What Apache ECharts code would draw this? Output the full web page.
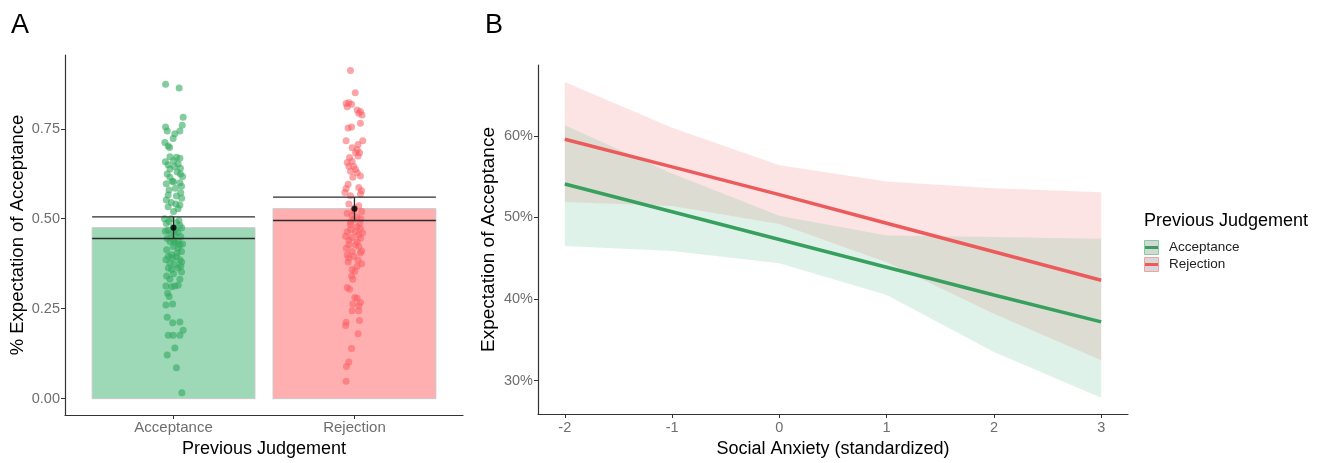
<!DOCTYPE html>
<html><head><meta charset="utf-8">
<script src="https://cdn.jsdelivr.net/npm/echarts@6/dist/echarts.min.js"></script>
<style>html,body{margin:0;padding:0;background:#fff}#c{width:1320px;height:463px}</style>
</head><body><div id="c"></div>
<script>
// ---------- Panel A data ----------
const categories = ['Acceptance', 'Rejection'];
const barMeans = [0.475, 0.528];
const ciLower = [0.445, 0.495];
const ciUpper = [0.505, 0.560];
const yTicksA = [0, 0.25, 0.5, 0.75];

const accValues = [0.874,0.863,0.782,0.760,0.755,0.744,0.744,0.736,0.723,0.712,0.702,0.698,
0.672,0.671,0.668,0.661,0.650,0.652,0.640,0.638,0.624,0.624,0.615,0.617,0.604,
0.597,0.603,0.600,0.590,0.580,0.566,0.563,0.552,0.545,0.541,0.538,0.528,
0.500,0.500,0.487,0.489,0.482,0.477,0.468,0.462,0.455,
0.437,0.434,0.437,0.428,0.423,0.414,0.409,0.400,0.396,0.394,0.386,0.386,0.377,0.373,0.363,0.363,0.359,0.352,0.341,0.332,0.332,
0.313,0.311,0.313,0.315,0.293,0.284,0.260,0.263,0.226,0.211,0.213,0.190,0.176,0.176,0.176,0.141,0.121,0.086,0.016,
0.495,0.492,0.475,0.470,0.465,0.458,0.450,0.445,0.440,0.430,
0.658,0.645,0.630,0.585,0.572,0.557,0.533,0.520,
0.418,0.405,0.390,0.380,0.368,0.347];
const accJitter = [-0.044,0.031,0.053,0.048,-0.044,-0.035,0.035,0.007,-0.002,-0.048,-0.030,-0.022,
-0.020,0.016,0.035,0.000,-0.030,0.025,0.038,-0.020,-0.035,0.038,-0.020,0.050,-0.007,
-0.040,0.000,0.035,0.044,-0.025,-0.030,0.016,-0.040,-0.012,0.013,0.035,0.025,
-0.050,-0.013,-0.040,0.016,0.035,-0.002,-0.030,0.025,0.007,
-0.020,0.007,0.026,0.035,-0.002,-0.038,0.044,-0.011,-0.029,0.016,-0.042,0.035,-0.020,0.007,-0.029,0.026,-0.011,0.044,-0.038,0.035,-0.020,
-0.042,-0.011,0.007,0.026,-0.033,-0.024,-0.042,-0.005,-0.035,-0.005,0.035,0.053,-0.029,-0.002,0.035,0.007,-0.035,0.016,0.046,
0.030,-0.025,0.045,0.010,-0.045,-0.015,0.040,-0.035,0.000,0.050,
-0.045,0.005,0.020,0.010,0.040,0.045,-0.030,0.000,
0.025,0.020,-0.005,0.045,0.040,0.000];

const rejValues = [0.912,0.850,0.820,0.822,0.818,0.811,0.802,0.798,0.788,0.793,0.765,0.752,0.755,0.717,0.717,
0.706,0.697,0.692,0.683,0.683,0.674,0.670,0.656,0.660,0.646,0.646,0.637,0.628,0.632,
0.619,0.615,0.596,0.584,0.587,0.578,0.573,0.564,0.569,0.541,0.536,0.523,0.509,0.505,0.491,
0.483,0.478,0.473,0.464,0.464,0.455,0.451,0.448,0.446,0.428,0.428,0.423,0.409,0.400,0.405,0.391,0.395,
0.368,0.359,0.354,0.341,0.332,0.309,0.304,
0.281,0.279,0.263,0.267,0.258,0.244,0.244,0.212,0.203,0.217,0.180,0.139,0.102,0.089,0.048,
0.530,0.520,0.515,0.500,0.498,0.488,0.470,0.460,0.440,0.435,0.418,0.410,0.385,0.380,0.375];
const rejJitter = [-0.022,0.004,-0.046,-0.031,-0.016,-0.040,0.015,0.033,0.042,0.024,0.033,-0.035,-0.016,-0.046,0.046,
0.020,-0.013,0.015,0.006,0.028,0.020,-0.027,-0.040,-0.013,-0.031,-0.004,0.006,0.015,-0.022,
0.033,-0.009,-0.035,-0.046,0.024,0.039,-0.053,-0.022,0.033,-0.031,0.024,-0.004,-0.013,0.015,-0.022,
-0.022,0.015,0.033,-0.040,0.006,0.024,-0.049,-0.013,0.033,-0.031,0.006,0.024,-0.013,-0.040,0.033,-0.031,-0.004,
0.015,-0.013,0.002,-0.016,-0.009,-0.040,-0.027,
0.002,0.015,-0.009,0.033,0.024,-0.013,0.024,-0.046,-0.049,0.028,0.020,-0.016,-0.031,-0.044,-0.046,
0.000,0.040,-0.040,0.035,-0.005,0.030,-0.020,0.045,-0.030,0.015,-0.045,0.040,0.020,-0.035,0.040];

// ---------- Panel B data ----------
const anxiety = [-2, -1, 0, 1, 2, 3];
const xTicksB = [-2, -1, 0, 1, 2, 3];
const yTicksB = [30, 40, 50, 60];
const rejLine  = [59.6, 56.2, 52.8, 49.3, 45.8, 42.3];
const rejUpper = [66.6, 61.0, 56.4, 54.4, 53.6, 53.1];
const rejLower = [51.9, 51.4, 49.2, 44.5, 38.2, 32.5];
const accLine  = [54.1, 50.7, 47.3, 43.9, 40.5, 37.2];
const accUpper = [61.3, 55.4, 50.2, 47.8, 47.6, 47.4];
const accLower = [46.5, 45.9, 44.4, 40.5, 33.5, 27.9];

// ---------- styles ----------
const FONT = '"Liberation Sans", Arial, sans-serif';
const GREEN_LINE = '#38a05e', RED_LINE = '#ec5b5b';
const GREEN_FILL = 'rgba(95,190,145,0.2)', RED_FILL = 'rgba(245,120,120,0.2)';
const BAR_FILL = ['#9dd8b7', '#ffafb0'];
const PT_COLOR = ['rgba(50,170,95,0.75)', 'rgba(250,95,100,0.7)'];
const AXIS_COL = '#333', TICK_LAB = '#6e6e6e';

const chart = echarts.init(document.getElementById('c'));

const pair = (xs, ys) => xs.map((x, i) => [x, ys[i]]);

function bandSeries(xs, lower, upper, fill, z) {
  return {
    type: 'custom', xAxisIndex: 1, yAxisIndex: 1, z: z,
    data: xs.map((x, i) => [x, lower[i], upper[i]]),
    renderItem(params, api) {
      if (params.dataIndex !== 0) return null;
      const pts = [];
      for (let i = 0; i < xs.length; i++) pts.push(api.coord([xs[i], upper[i]]));
      for (let i = xs.length - 1; i >= 0; i--) pts.push(api.coord([xs[i], lower[i]]));
      return { type: 'polygon', shape: { points: pts }, style: { fill: fill } };
    }
  };
}

const option = {
  animation: false,
  backgroundColor: '#fff',
  textStyle: { fontFamily: FONT },
  grid: [
    { left: 65, top: 55, width: 398, height: 365 },
    { left: 538, top: 65, width: 590, height: 353 }
  ],
  xAxis: [
    { gridIndex: 0, type: 'value', min: 0.4, max: 2.6,
      splitLine: { show: false },
      axisLine: { onZero: false, lineStyle: { color: AXIS_COL, width: 1.2 } },
      axisTick: { customValues: [1, 2], length: 4, lineStyle: { color: AXIS_COL } },
      axisLabel: { customValues: [1, 2], formatter: v => categories[Math.round(v) - 1], color: TICK_LAB, fontSize: 15, margin: 5, fontFamily: FONT },
      name: 'Previous Judgement', nameLocation: 'middle', nameGap: 25,
      nameTextStyle: { fontSize: 18, color: '#000', fontFamily: FONT } },
    { gridIndex: 1, type: 'value', min: -2.25, max: 3.25,
      splitLine: { show: false },
      axisLine: { onZero: false, lineStyle: { color: AXIS_COL, width: 1.2 } },
      axisTick: { customValues: xTicksB, length: 4, lineStyle: { color: AXIS_COL } },
      axisLabel: { customValues: xTicksB, color: TICK_LAB, fontSize: 14.5, margin: 6, fontFamily: FONT },
      name: 'Social Anxiety (standardized)', nameLocation: 'middle', nameGap: 26,
      nameTextStyle: { fontSize: 18, color: '#000', fontFamily: FONT } }
  ],
  yAxis: [
    { gridIndex: 0, type: 'value', min: -0.0455, max: 0.955,
      splitLine: { show: false },
      axisLine: { show: true, onZero: false, lineStyle: { color: AXIS_COL, width: 1.2 } },
      axisTick: { show: true, customValues: yTicksA, length: 4, lineStyle: { color: AXIS_COL } },
      axisLabel: { customValues: yTicksA, formatter: v => v.toFixed(2), color: TICK_LAB, fontSize: 14.5, margin: 5, fontFamily: FONT },
      name: '% Expectation of Acceptance', nameLocation: 'middle', nameGap: 38, nameRotate: 90,
      nameTextStyle: { fontSize: 18.5, color: '#000', fontFamily: FONT } },
    { gridIndex: 1, type: 'value', min: 25.9, max: 68.7,
      splitLine: { show: false },
      axisLine: { show: true, onZero: false, lineStyle: { color: AXIS_COL, width: 1.2 } },
      axisTick: { show: true, customValues: yTicksB, length: 4, lineStyle: { color: AXIS_COL } },
      axisLabel: { customValues: yTicksB, formatter: v => Math.round(v) + '%', color: TICK_LAB, fontSize: 14.5, margin: 5, fontFamily: FONT },
      name: 'Expectation of Acceptance', nameLocation: 'middle', nameGap: 40, nameRotate: 90,
      nameTextStyle: { fontSize: 19, color: '#000', fontFamily: FONT } }
  ],
  series: [
    // bars
    { type: 'custom', xAxisIndex: 0, yAxisIndex: 0, z: 1,
      data: barMeans.map((m, k) => [k + 1, m]),
      renderItem(params, api) {
        const x = api.value(0), v = api.value(1);
        const p0 = api.coord([x - 0.45, v]);
        const p1 = api.coord([x + 0.45, 0]);
        return { type: 'rect', shape: { x: p0[0], y: p0[1], width: p1[0] - p0[0], height: p1[1] - p0[1] },
          style: { fill: BAR_FILL[params.dataIndex], stroke: '#c9c9c9', lineWidth: 1 } };
      } },
    // jitter points
    { type: 'scatter', xAxisIndex: 0, yAxisIndex: 0, z: 2, symbolSize: 7,
      itemStyle: { color: PT_COLOR[0] }, data: pair(accJitter.map(j => 1 + j), accValues) },
    { type: 'scatter', xAxisIndex: 0, yAxisIndex: 0, z: 2, symbolSize: 7,
      itemStyle: { color: PT_COLOR[1] }, data: pair(rejJitter.map(j => 2 + j), rejValues) },
    // error bars
    { type: 'custom', xAxisIndex: 0, yAxisIndex: 0, z: 3,
      data: ciLower.map((l, k) => [k + 1, l, ciUpper[k]]),
      renderItem(params, api) {
        const x = api.value(0), lo = api.value(1), hi = api.value(2);
        const a = api.coord([x - 0.45, hi]), b = api.coord([x + 0.45, hi]);
        const c = api.coord([x - 0.45, lo]), d = api.coord([x + 0.45, lo]);
        const m1 = api.coord([x, hi]), m2 = api.coord([x, lo]);
        const st = { stroke: '#2b2b2b', lineWidth: 1.3 };
        return { type: 'group', children: [
          { type: 'line', shape: { x1: a[0], y1: a[1], x2: b[0], y2: b[1] }, style: st },
          { type: 'line', shape: { x1: c[0], y1: c[1], x2: d[0], y2: d[1] }, style: st },
          { type: 'line', shape: { x1: m1[0], y1: m1[1], x2: m2[0], y2: m2[1] }, style: st }
        ] };
      } },
    // mean points
    { type: 'scatter', xAxisIndex: 0, yAxisIndex: 0, z: 4, symbolSize: 6,
      itemStyle: { color: '#000' }, data: barMeans.map((m, k) => [k + 1, m]) },

    // Panel B: confidence bands
    bandSeries(anxiety, rejLower, rejUpper, RED_FILL, 1),
    bandSeries(anxiety, accLower, accUpper, GREEN_FILL, 2),
    // lines
    { type: 'line', xAxisIndex: 1, yAxisIndex: 1, symbol: 'none', z: 5,
      lineStyle: { color: RED_LINE, width: 3.5 }, data: pair(anxiety, rejLine) },
    { type: 'line', xAxisIndex: 1, yAxisIndex: 1, symbol: 'none', z: 5,
      lineStyle: { color: GREEN_LINE, width: 3.5 }, data: pair(anxiety, accLine) }
  ],
  graphic: [
    { type: 'text', left: 11, top: 12, style: { text: 'A', fontSize: 27, fill: '#000', fontFamily: FONT } },
    { type: 'text', left: 485, top: 12, style: { text: 'B', fontSize: 27, fill: '#000', fontFamily: FONT } },
    { type: 'text', left: 1144, top: 212, style: { text: 'Previous Judgement', fontSize: 18, fill: '#000', fontFamily: FONT } },
    { type: 'rect', left: 1144, top: 240, shape: { width: 14, height: 14 }, style: { fill: '#d7d7d7', stroke: '#7fcf9f', lineWidth: 1 } },
    { type: 'rect', left: 1145, top: 246, shape: { width: 13, height: 3 }, style: { fill: GREEN_LINE } },
    { type: 'rect', left: 1144, top: 257, shape: { width: 14, height: 14 }, style: { fill: '#d7d7d7', stroke: '#f2a0a0', lineWidth: 1 } },
    { type: 'rect', left: 1145, top: 263, shape: { width: 13, height: 3 }, style: { fill: RED_LINE } },
    { type: 'text', left: 1169, top: 240, style: { text: 'Acceptance', fontSize: 13.5, fill: '#222', fontFamily: FONT } },
    { type: 'text', left: 1169, top: 257, style: { text: 'Rejection', fontSize: 13.5, fill: '#222', fontFamily: FONT } }
  ]
};
chart.setOption(option);
</script>
</body></html>
